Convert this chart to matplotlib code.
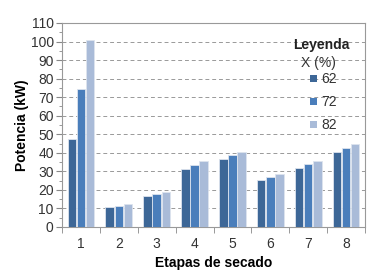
import numpy as np
import matplotlib.pyplot as plt
from matplotlib.ticker import MultipleLocator
from matplotlib.patches import Patch

plt.rcParams['font.family'] = ['Liberation Sans', 'DejaVu Sans']

# data
etapas = ['1', '2', '3', '4', '5', '6', '7', '8']
x_labels = ['62', '72', '82']
p62 = [47.5, 11, 16.5, 31.5, 36.5, 25.3, 32, 40.3]
p72 = [74.5, 11.5, 17.7, 33.7, 38.7, 26.7, 33.8, 42.7]
p82 = [101, 12.4, 18.9, 35.5, 40.7, 28.4, 35.6, 45]

colors = ['#3d6797', '#4a7ebb', '#a9bbd8']
series = [p62, p72, p82]

fig = plt.figure(figsize=(3.91, 2.75), dpi=100)
ax = fig.add_axes([62 / 391, 1 - 227 / 275, 303 / 391, 204 / 275])

x = np.arange(len(etapas))
w = 0.225
for i, (vals, c) in enumerate(zip(series, colors)):
    ax.bar(x + (i - 1) * (w + 0.015), vals, w, color=c, edgecolor='#dde4ee',
           linewidth=0.6, zorder=3)

ax.set_xlim(-0.5, len(etapas) - 0.5)
ax.set_ylim(0, 110)
ax.yaxis.set_major_locator(MultipleLocator(10))
ax.yaxis.set_minor_locator(MultipleLocator(5))
ax.yaxis.grid(True, which='major', linestyle=(0, (4, 3)), color='#999999', linewidth=0.7, zorder=0)

ax.set_xticks(x)
ax.set_xticklabels(etapas)
ax.set_xticks(np.arange(-0.5, len(etapas)), minor=True)
ax.tick_params(axis='x', which='major', length=0, pad=7, labelsize=10, labelcolor='#333333')
ax.tick_params(axis='x', which='minor', length=4, color='#888888')
ax.tick_params(axis='y', which='major', length=4, color='#888888', labelsize=10, labelcolor='#333333', pad=2)
ax.tick_params(axis='y', which='minor', length=2.5, color='#888888')

for s in ax.spines.values():
    s.set_color('#999999')
    s.set_linewidth(0.8)

ax.set_xlabel('Etapas de secado', fontweight='bold', fontsize=10, labelpad=4)
ax.set_ylabel('Potencia (kW)', fontweight='bold', fontsize=10, labelpad=1)

# legend
ax.text(0.855, 0.89, 'Leyenda', transform=ax.transAxes, ha='center', va='center',
        fontsize=10, fontweight='bold', color='#222222')
ax.text(0.845, 0.805, 'X (%)', transform=ax.transAxes, ha='center', va='center',
        fontsize=10, color='#333333')
handles = [Patch(facecolor=c, edgecolor='none') for c in colors]
leg = ax.legend(handles, x_labels, loc='upper left', bbox_to_anchor=(0.8, 0.785),
                frameon=False, handlelength=0.5, handleheight=0.5, handletextpad=0.3,
                labelspacing=0.65, fontsize=10, borderaxespad=0)
for t in leg.get_texts():
    t.set_color('#333333')

fig.savefig('out.png', dpi=100)
